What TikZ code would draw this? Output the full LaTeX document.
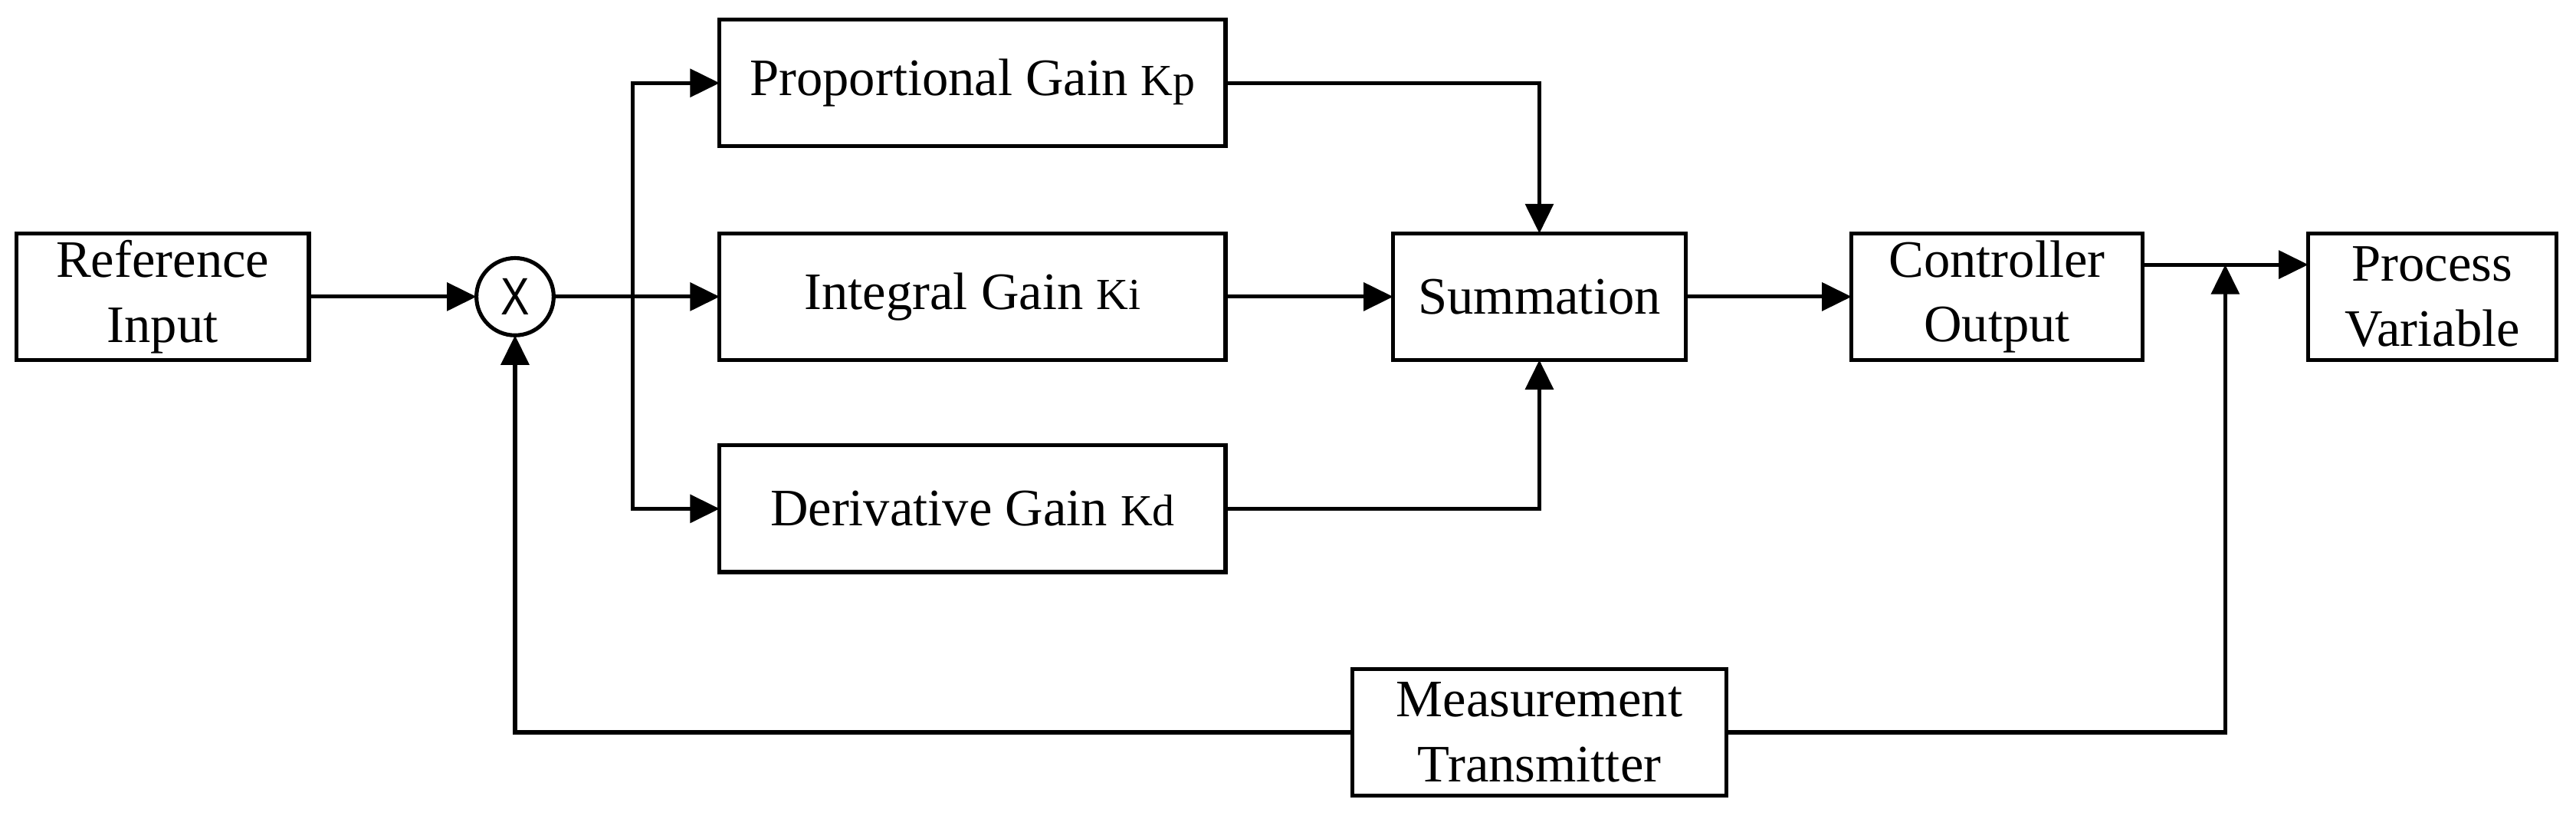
\documentclass[tikz,border=0pt]{standalone}
\usepackage{fontspec}
\setmainfont{Liberation Serif}
\newfontfamily\sansx{Liberation Sans}
\usetikzlibrary{arrows.meta,positioning,calc}

\newcommand{\gainsym}[1]{{\fontsize{27}{30}\selectfont #1}}

\begin{document}
\begin{tikzpicture}[
    x=1pt, y=-1pt,
    >={Triangle[length=18pt,width=17pt]},
    line width=2.4pt,
    block/.style={rectangle, draw, line width=2.4pt, inner sep=0pt, outer sep=0pt, minimum height=77pt, align=center, font=\fontsize{32}{39.5}\selectfont},
    mixer/.style={circle, draw, line width=2.4pt, inner sep=0pt, outer sep=0pt, minimum size=47pt, font=\sansx\fontsize{32}{32}\selectfont}
]
\useasboundingbox (0,0) rectangle (1568,497.8);

% Forward path
\node[block, minimum width=178pt] (ref) at (99,180.5) {Reference\\Input};
\node[mixer, right=102pt of ref] (circ) {\scalebox{0.82}[1]{X}};
\coordinate[right=48pt of circ] (split);
\node[block, minimum width=308pt, right=101pt of circ] (int) {Integral Gain \gainsym{Ki}};
\node[block, minimum width=308pt, above=53pt of int] (prop) {Proportional Gain \gainsym{Kp}};
\node[block, minimum width=308pt, below=52pt of int] (der) {Derivative Gain \gainsym{Kd}};
\node[block, minimum width=178pt, right=102pt of int] (sum) {Summation};
\node[block, minimum width=177pt, right=101pt of sum] (co) {Controller\\Output};
\node[block, minimum width=151pt, right=101pt of co] (pv) {Process\\Variable};

% Feedback path
\coordinate (aux) at (der.south -| sum);
\node[block, minimum width=228pt, below=59pt of aux] (meas) {Measurement\\Transmitter};
\coordinate (tap) at ([yshift=19.5pt]$(co.east)!0.5!(pv.west)$);

% Connections
\draw[->] (ref) -- (circ);
\draw[->] (circ) -- (int);
\draw[->] (split) |- (prop);
\draw[->] (split) |- (der);
\draw[->] (prop) -| (sum);
\draw[->] (der) -| (sum);
\draw[->] (int) -- (sum);
\draw[->] (sum) -- (co);
\draw[->] (co.east |- tap) -- (pv.west |- tap);
\draw[->] (meas) -| (tap);
\draw[->] (meas) -| (circ);

\end{tikzpicture}
\end{document}
